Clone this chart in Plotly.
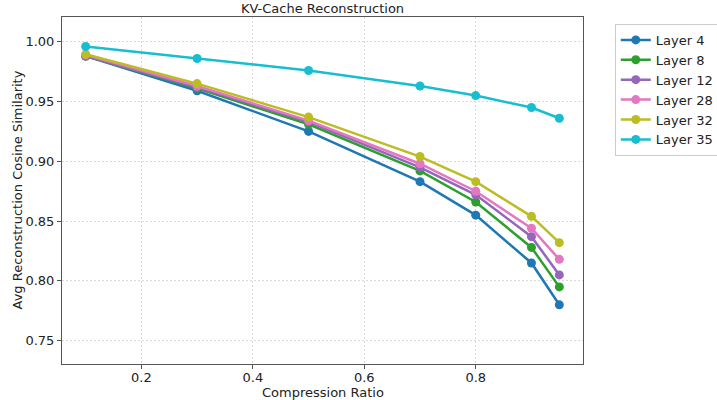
import plotly.graph_objects as go

ratios = [0.1, 0.3, 0.5, 0.7, 0.8, 0.9, 0.95]
layer4 = [0.988, 0.959, 0.925, 0.883, 0.855, 0.815, 0.780]
layer8 = [0.988, 0.961, 0.931, 0.892, 0.866, 0.828, 0.795]
layer12 = [0.988, 0.962, 0.933, 0.895, 0.872, 0.837, 0.805]
layer28 = [0.989, 0.963, 0.934, 0.898, 0.875, 0.844, 0.818]
layer32 = [0.9895, 0.965, 0.937, 0.904, 0.883, 0.854, 0.832]
layer35 = [0.996, 0.986, 0.976, 0.963, 0.955, 0.945, 0.936]

names = ["Layer 4", "Layer 8", "Layer 12", "Layer 28", "Layer 32", "Layer 35"]
series = [layer4, layer8, layer12, layer28, layer32, layer35]
colors = ["#1f77b4", "#2ca02c", "#9467bd", "#e377c2", "#bcbd22", "#17becf"]

fig = go.Figure()
for n, s, c in zip(names, series, colors):
    fig.add_trace(go.Scatter(x=ratios, y=s, name=n, mode="lines+markers",
                             line=dict(color=c, width=2.5),
                             marker=dict(color=c, size=9)))

axis_common = dict(showline=True, linecolor="#555", linewidth=1, mirror=True,
                   showgrid=True, gridcolor="#d9d9d9", griddash="2px,2px", gridwidth=1,
                   ticks="outside", ticklen=4, tickcolor="#555", zeroline=False,
                   automargin=False,
                   tickfont=dict(family="DejaVu Sans", size=13, color="#222"))

fig.update_layout(
    width=717, height=400,
    margin=dict(l=62, r=134, t=17, b=36, autoexpand=False),
    paper_bgcolor="white", plot_bgcolor="white",
    font=dict(family="DejaVu Sans", size=13, color="#222"),
    title=dict(text="KV-Cache Reconstruction", x=(62 + 583) / 2 / 717, xanchor="center",
               y=1 - 8 / 400, yanchor="middle", font=dict(size=13)),
    xaxis=dict(range=[0.0575, 0.9925], tickvals=[0.2, 0.4, 0.6, 0.8],
               ticktext=["0.2", "0.4", "0.6", "0.8"], ticklabelstandoff=-3, **axis_common),
    yaxis=dict(range=[0.7305, 1.0207], tickvals=[0.75, 0.80, 0.85, 0.90, 0.95, 1.00],
               ticktext=["0.75", "0.80", "0.85", "0.90", "0.95", "1.00"], **axis_common),
    legend=dict(x=1.061, y=0.98, xanchor="left", yanchor="top",
                bordercolor="#cccccc", borderwidth=1, bgcolor="white",
                font=dict(size=13), tracegroupgap=0, itemwidth=30),
    annotations=[
        dict(text="Compression Ratio", xref="paper", yref="paper", x=0.5, y=-(393 - 364) / 347,
             xanchor="center", yanchor="middle", showarrow=False, font=dict(size=13)),
        dict(text="Avg Reconstruction Cosine Similarity", xref="paper", yref="paper",
             x=(17 - 62) / 521, y=0.5, xanchor="center", yanchor="middle", textangle=-90,
             showarrow=False, font=dict(size=13)),
    ],
)

fig.write_html("out.html")
